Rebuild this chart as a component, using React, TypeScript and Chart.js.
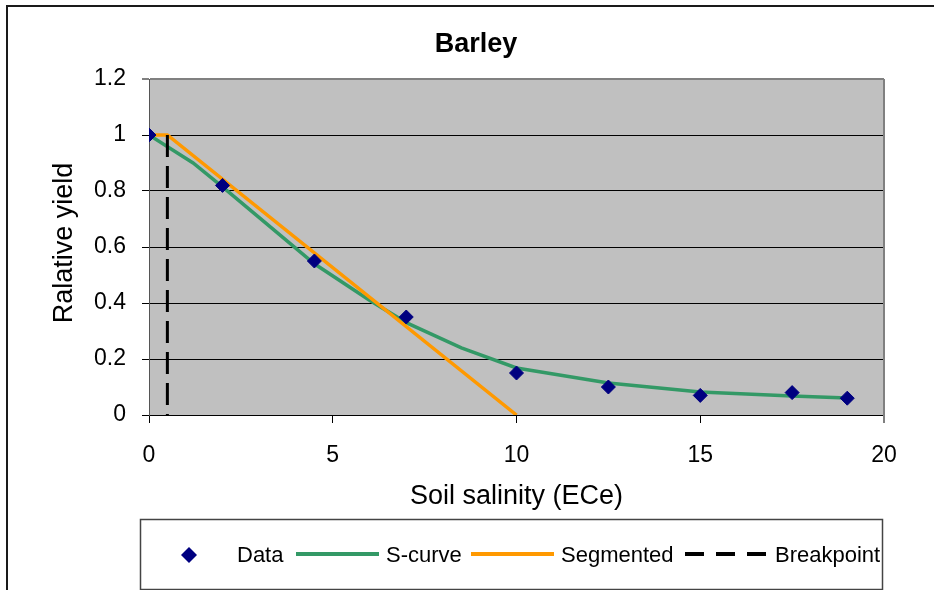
import React, { useEffect, useRef } from 'react';
import { Chart, registerables } from 'chart.js';

Chart.register(...registerables);

// Measured yields
const dataX = [0, 2, 4.5, 7, 10, 12.5, 15, 17.5, 19];
const dataY = [1.0, 0.82, 0.55, 0.35, 0.15, 0.1, 0.07, 0.08, 0.06];

// Fitted S-curve
const sCurveX = [0, 1.2, 2, 3, 4.5, 6, 7, 8.5, 10, 12.5, 15, 17.5, 19];
const sCurveY = [1.0, 0.9, 0.815, 0.705, 0.54, 0.41, 0.33, 0.24, 0.168, 0.114, 0.082, 0.068, 0.061];

// Segmented (broken-line) model
const segmentedX = [0, 0.5, 10];
const segmentedY = [1, 1, 0];

// Breakpoint marker
const breakpointX = [0.5, 0.5];
const breakpointY = [1, 0];

const xTicks = [0, 5, 10, 15, 20];
const yTicks = [0, 0.2, 0.4, 0.6, 0.8, 1, 1.2];

const seriesNames = ['Data', 'S-curve', 'Segmented', 'Breakpoint'];
const chartTitle = 'Barley';
const xTitle = 'Soil salinity (ECe)';
const yTitle = 'Ralative yield';

const FONT = '"Liberation Sans", Arial, Helvetica, sans-serif';
const NAVY = '#000080';
const GREEN = '#339966';
const ORANGE = '#FF9900';

const toPoints = (xs: number[], ys: number[]) => xs.map((x, i) => ({ x, y: ys[i] }));

// legend layout: sample start x and label start x for each line entry
const legendLines = [
  { color: GREEN, dash: [] as number[], from: 296, to: 379, textX: 386 },
  { color: ORANGE, dash: [] as number[], from: 471, to: 554, textX: 561 },
  { color: '#000000', dash: [19, 12], from: 685, to: 767, textX: 775 },
];

const decorations = {
  id: 'decorations',
  beforeDraw(chart: any) {
    const { ctx, chartArea } = chart;
    ctx.save();
    ctx.fillStyle = '#ffffff';
    ctx.fillRect(0, 0, chart.width, chart.height);
    ctx.fillStyle = '#C0C0C0';
    ctx.fillRect(chartArea.left, chartArea.top, chartArea.right - chartArea.left, chartArea.bottom - chartArea.top);
    ctx.restore();
  },
  afterDraw(chart: any) {
    const { ctx, chartArea } = chart;
    const { left, right, top, bottom } = chartArea;
    ctx.save();

    // plot area right edge
    ctx.strokeStyle = '#808080';
    ctx.lineWidth = 2;
    ctx.beginPath();
    ctx.moveTo(right, top);
    ctx.lineTo(right, bottom + 8);
    ctx.stroke();

    // outer chart frame
    ctx.strokeStyle = '#1a1a1a';
    ctx.lineWidth = 2;
    ctx.beginPath();
    ctx.moveTo(7, chart.height);
    ctx.lineTo(7, 6);
    ctx.lineTo(chart.width, 6);
    ctx.stroke();

    ctx.fillStyle = '#000';

    // title
    ctx.font = `bold 27px ${FONT}`;
    ctx.textAlign = 'center';
    ctx.textBaseline = 'alphabetic';
    ctx.fillText(chartTitle, 476, 52);

    // axis titles
    ctx.font = `27px ${FONT}`;
    ctx.fillText(xTitle, (left + right) / 2, 504);
    ctx.save();
    ctx.translate(72, (top + bottom) / 2 - 4);
    ctx.rotate(-Math.PI / 2);
    ctx.fillText(yTitle, 0, 0);
    ctx.restore();

    // legend box
    const boxL = 140, boxT = 519, boxR = 882, boxB = 589;
    ctx.strokeStyle = '#444';
    ctx.lineWidth = 1.5;
    ctx.strokeRect(boxL + 0.5, boxT + 0.5, boxR - boxL, boxB - boxT);

    const midY = 554;
    const baseY = 562;
    ctx.font = `22px ${FONT}`;
    ctx.textAlign = 'left';

    // Data marker
    const dx = 189;
    ctx.fillStyle = NAVY;
    ctx.beginPath();
    ctx.moveTo(dx - 8, midY + 1);
    ctx.lineTo(dx, midY - 7);
    ctx.lineTo(dx + 8, midY + 1);
    ctx.lineTo(dx, midY + 9);
    ctx.closePath();
    ctx.fill();

    ctx.fillStyle = '#000';
    ctx.fillText(seriesNames[0], 237, baseY);

    legendLines.forEach((item, i) => {
      ctx.strokeStyle = item.color;
      ctx.lineWidth = 4;
      ctx.setLineDash(item.dash);
      ctx.beginPath();
      ctx.moveTo(item.from, midY);
      ctx.lineTo(item.to, midY);
      ctx.stroke();
      ctx.setLineDash([]);
      ctx.fillStyle = '#000';
      ctx.fillText(seriesNames[i + 1], item.textX, baseY);
    });

    ctx.restore();
  },
};

export default function App() {
  const canvasRef = useRef<HTMLCanvasElement>(null);

  useEffect(() => {
    const canvas = canvasRef.current;
    if (!canvas) return;

    const chart = new Chart(canvas, {
      type: 'scatter',
      data: {
        datasets: [
          {
            label: seriesNames[0],
            data: toPoints(dataX, dataY),
            pointStyle: 'rectRot',
            pointRadius: 7,
            backgroundColor: NAVY,
            borderColor: NAVY,
            borderWidth: 1,
            showLine: false,
            order: 0,
          },
          {
            label: seriesNames[1],
            data: toPoints(sCurveX, sCurveY),
            showLine: true,
            borderColor: GREEN,
            borderWidth: 3.5,
            pointRadius: 0,
            tension: 0,
            order: 3,
          },
          {
            label: seriesNames[2],
            data: toPoints(segmentedX, segmentedY),
            showLine: true,
            borderColor: ORANGE,
            borderWidth: 3.5,
            pointRadius: 0,
            tension: 0,
            order: 2,
          },
          {
            label: seriesNames[3],
            data: toPoints(breakpointX, breakpointY),
            showLine: true,
            borderColor: '#000000',
            borderWidth: 3,
            borderDash: [22, 9],
            pointRadius: 0,
            order: 1,
          },
        ],
      } as any,
      options: {
        responsive: false,
        devicePixelRatio: 1,
        animation: false,
        events: [],
        layout: { padding: { top: 79, right: 50, left: 0, bottom: 0 } },
        plugins: {
          legend: { display: false },
          title: { display: false },
          tooltip: { enabled: false },
        },
        scales: {
          x: {
            type: 'linear',
            min: 0,
            max: 20,
            afterFit: (scale: any) => {
              scale.height = 175;
            },
            afterBuildTicks: (scale: any) => {
              scale.ticks = xTicks.map((v) => ({ value: v }));
            },
            ticks: {
              color: '#000',
              font: { family: FONT, size: 23 },
              padding: 19,
              maxRotation: 0,
              callback: (v: any) => String(v),
            },
            grid: {
              drawOnChartArea: false,
              drawTicks: true,
              tickLength: 8,
              color: '#000',
              lineWidth: 1,
            },
            border: { display: true, color: '#000', width: 1 },
          },
          y: {
            type: 'linear',
            min: 0,
            max: 1.2,
            afterFit: (scale: any) => {
              scale.width = 149;
            },
            afterBuildTicks: (scale: any) => {
              scale.ticks = yTicks.map((v) => ({ value: v }));
            },
            ticks: {
              color: '#000',
              font: { family: FONT, size: 23 },
              padding: 16,
              callback: (v: any) => String(v),
            },
            grid: {
              drawTicks: true,
              tickLength: 7,
              color: (ctx: any) => (ctx.tick && ctx.tick.value === 1.2 ? '#808080' : '#000000'),
              lineWidth: (ctx: any) => (ctx.tick && ctx.tick.value === 1.2 ? 2 : 1),
            },
            border: { display: true, color: '#555', width: 1 },
          },
        },
      } as any,
      plugins: [decorations],
    });

    return () => chart.destroy();
  }, []);

  return (
    <div style={{ position: 'fixed', left: 0, top: 0, width: 934, height: 590, background: '#fff' }}>
      <canvas ref={canvasRef} width={934} height={590} style={{ display: 'block', width: 934, height: 590 }} />
    </div>
  );
}
